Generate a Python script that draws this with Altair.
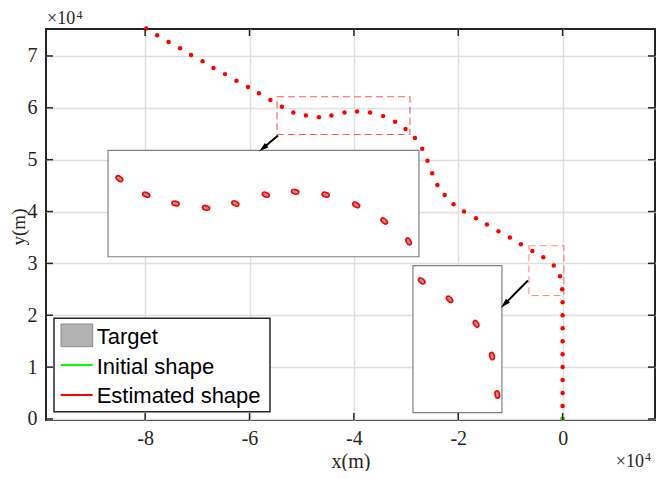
import altair as alt
import pandas as pd

# ---- data (units of 10^4 m) ----
x_pos = [-7.98, -7.77, -7.55, -7.33, -7.12, -6.90, -6.69, -6.47, -6.25, -6.03,
         -5.82, -5.60, -5.38, -5.16, -4.92, -4.67, -4.43, -4.18, -3.94, -3.69,
         -3.44, -3.21, -3.01, -2.83, -2.69, -2.59, -2.50, -2.40, -2.26, -2.09,
         -1.89, -1.66, -1.45, -1.23, -1.01, -0.80, -0.58, -0.37, -0.17, -0.05,
         -0.01, 0, 0, 0, 0, 0, 0, 0, 0, 0, 0]
y_pos = [7.53, 7.40, 7.27, 7.15, 7.02, 6.90, 6.77, 6.65, 6.52, 6.40,
         6.28, 6.15, 6.02, 5.91, 5.85, 5.82, 5.85, 5.91, 5.93, 5.91,
         5.84, 5.73, 5.59, 5.42, 5.21, 4.98, 4.74, 4.51, 4.32, 4.14,
         4.00, 3.87, 3.75, 3.62, 3.50, 3.37, 3.24, 3.12, 2.96, 2.75,
         2.50, 2.25, 2.00, 1.75, 1.50, 1.25, 1.00, 0.75, 0.50, 0.25, 0]

initial_x = [0]
initial_y = [0]

# zoom windows (x0, x1, y0, y1) and the inset boxes they are magnified into
zoom_src = [[-5.473, -2.925, 5.485, 6.213], [-0.646, 0.025, 2.381, 3.339]]
zoom_dst = [[-8.711, -2.753, 3.128, 5.178], [-2.868, -1.163, 0.121, 2.956]]
zoom_opacity = [0.65, 0.45]
tilt_1 = [35, 25, 15, 15, 25, 25, 15, 20, 30, 40, 60]
tilt_2 = [40, 45, 60, 75, 80]

arrow_from = [[-5.454, 5.466], [-0.665, 2.669]]
arrow_to = [[-5.818, 5.159], [-1.182, 2.146]]
arrow_angle = [230, 224]
arrow_head_t = [0.80, 0.87]

legend_labels = ["Target", "Initial shape", "Estimated shape"]
x_ticks = [-8, -6, -4, -2, 0]
y_ticks = [0, 1, 2, 3, 4, 5, 6, 7]

# ---- tables ----
pts = pd.DataFrame({"x": x_pos, "y": y_pos})
init = pd.DataFrame({"x": initial_x, "y": initial_y})
rects = pd.DataFrame({"x": [r[0] for r in zoom_src], "x2": [r[1] for r in zoom_src],
                      "y": [r[2] for r in zoom_src], "y2": [r[3] for r in zoom_src],
                      "op": zoom_opacity})
boxes = pd.DataFrame({"x": [r[0] for r in zoom_dst], "x2": [r[1] for r in zoom_dst],
                      "y": [r[2] for r in zoom_dst], "y2": [r[3] for r in zoom_dst]})
inset_rows = []
for src, dst, tilts in zip(zoom_src, zoom_dst, [tilt_1, tilt_2]):
    sel = pts[(pts.x >= src[0]) & (pts.x <= src[1]) & (pts.y >= src[2]) & (pts.y <= src[3])]
    for (xv, yv), t in zip(sel[["x", "y"]].values, tilts):
        ix = dst[0] + (xv - src[0]) * (dst[1] - dst[0]) / (src[1] - src[0])
        iy = dst[2] + (yv - src[2]) * (dst[3] - dst[2]) / (src[3] - src[2])
        inset_rows.append({"x": ix, "y": iy, "ang": t})
inset = pd.DataFrame(inset_rows)
arrows = pd.DataFrame({
    "x": [a[0] for a in arrow_from], "y": [a[1] for a in arrow_from],
    "hx": [f[0] + t * (e[0] - f[0]) for f, e, t in zip(arrow_from, arrow_to, arrow_head_t)],
    "hy": [f[1] + t * (e[1] - f[1]) for f, e, t in zip(arrow_from, arrow_to, arrow_head_t)],
    "ang": arrow_angle})
xt = pd.DataFrame({"x": x_ticks})
yt = pd.DataFrame({"y": y_ticks})
one = pd.DataFrame({"a": [0]})

W, H = 609, 391
SERIF = "Liberation Serif"
SANS = "Liberation Sans"
DARK = "#262626"

xs = alt.Scale(domain=[-9.9, 1.77], nice=False, zero=False)
ys = alt.Scale(domain=[-0.02, 7.52], nice=False, zero=False)

x_axis = alt.Axis(values=x_ticks, labelExpr="'' + datum.value", title="x(m)",
                  grid=True, gridColor="#dfdfdf", gridWidth=1.5, ticks=False, tickSize=0,
                  domain=False, labelFont=SERIF, labelFontSize=20, labelColor=DARK,
                  labelPadding=8.5, titleFont=SERIF, titleFontSize=20, titleFontWeight="normal",
                  titleColor=DARK, titleY=47, titleBaseline="alphabetic")
y_axis = alt.Axis(values=y_ticks, labelExpr="'' + datum.value", title="y(m)",
                  grid=True, gridColor="#dfdfdf", gridWidth=1.5, ticks=False, tickSize=0,
                  domain=False, labelFont=SERIF, labelFontSize=20, labelColor=DARK,
                  labelPadding=9, titleFont=SERIF, titleFontSize=19, titleFontWeight="normal",
                  titleColor=DARK, titleAngle=270, titleX=-22, titleY=H / 2 + 2,
                  titleBaseline="alphabetic", titleAlign="center")

def X(f="x"):
    return alt.X(f"{f}:Q", scale=xs, axis=x_axis)

def Y(f="y"):
    return alt.Y(f"{f}:Q", scale=ys, axis=y_axis)

dots = alt.Chart(pts).mark_circle(color="#ff0000", size=20, opacity=1).encode(x=X(), y=Y())

green = alt.Chart(init).mark_square(color="#00ff00", size=12, opacity=1).encode(x=X(), y=Y())

zrects = alt.Chart(rects).mark_rect(fill=None, stroke="#ff0000", strokeWidth=1.1,
                                    strokeDash=[7, 4]).encode(
    x=X(), x2="x2:Q", y=Y(), y2="y2:Q", strokeOpacity=alt.StrokeOpacity("op:Q", scale=None))

ibox = alt.Chart(boxes).mark_rect(fill="white", stroke="#808080", strokeWidth=1.2).encode(
    x=X(), x2="x2:Q", y=Y(), y2="y2:Q")

ELLIPSE = "M-1,0A1,0.6,0,1,1,1,0A1,0.6,0,1,1,-1,0Z"
ell = alt.Chart(inset).mark_point(shape=ELLIPSE, filled=True, fill="#999999", stroke="#ff0000",
                                  strokeWidth=1.6, size=56, opacity=1, fillOpacity=1).encode(
    x=X(), y=Y(), angle=alt.Angle("ang:Q", scale=None))

arrow_line = alt.Chart(arrows).mark_rule(color="black", strokeWidth=2).encode(
    x=X(), y=Y(), x2="hx:Q", y2="hy:Q")
HEAD = "M0,-1L0.55,1L-0.55,1Z"
arrow_head = alt.Chart(arrows).mark_point(shape=HEAD, filled=True, color="black", size=100,
                                          opacity=1).encode(
    x=X("hx"), y=Y("hy"), angle=alt.Angle("ang:Q", scale=None))

tick_b = alt.Chart(xt).mark_rule(color=DARK, strokeWidth=1.5).encode(
    x=X(), y=alt.value(H), y2=alt.value(H - 7))
tick_t = alt.Chart(xt).mark_rule(color=DARK, strokeWidth=1.5).encode(
    x=X(), y=alt.value(0), y2=alt.value(7))
tick_l = alt.Chart(yt).mark_rule(color=DARK, strokeWidth=1.5).encode(
    y=Y(), x=alt.value(0), x2=alt.value(7))
tick_r = alt.Chart(yt).mark_rule(color=DARK, strokeWidth=1.5).encode(
    y=Y(), x=alt.value(W), x2=alt.value(W - 7))

# legend (pixel offsets from the plot's top-left corner)
leg_box = alt.Chart(one).mark_rect(fill="white", stroke=DARK, strokeWidth=1.5).encode(
    x=alt.value(8), x2=alt.value(224), y=alt.value(289.3), y2=alt.value(382.7))
leg_patch = alt.Chart(one).mark_rect(fill="#b3b3b3", stroke="#8c8c8c", strokeWidth=1).encode(
    x=alt.value(15), x2=alt.value(46.7), y=alt.value(295), y2=alt.value(317.7))
leg_g = alt.Chart(one).mark_rule(color="#00ff00", strokeWidth=1.8).encode(
    x=alt.value(14.7), x2=alt.value(46.7), y=alt.value(336))
leg_r = alt.Chart(one).mark_rule(color="#ff0000", strokeWidth=1.8).encode(
    x=alt.value(14.7), x2=alt.value(46.7), y=alt.value(366))
leg_text = [alt.Chart(one).mark_text(align="left", baseline="alphabetic", font=SANS,
                                     fontSize=22, color="black").encode(
    x=alt.value(50.7), y=alt.value(315.3 + 29.5 * i), text=alt.value(lab))
    for i, lab in enumerate(legend_labels)]

# x10^4 multipliers
def txt(s, xp, yp, size, align="left"):
    return alt.Chart(one).mark_text(align=align, baseline="alphabetic", font=SERIF,
                                    fontSize=size, color=DARK).encode(
        x=alt.value(xp), y=alt.value(yp), text=alt.value(s))

m1 = txt("×10", 1, -5, 18)
m1e = txt("4", 30.5, -10, 12)
m2 = txt("×10", 598, 438, 18, "right")
m2e = txt("4", 599, 432, 12)

chart = alt.layer(
    dots, zrects, green, ibox, ell, arrow_line, arrow_head,
    tick_b, tick_t, tick_l, tick_r,
    leg_box, leg_patch, leg_g, leg_r, *leg_text,
    m1, m1e, m2, m2e,
).properties(
    width=W, height=H,
    autosize=alt.AutoSizeParams(type="none"),
    padding={"left": 38, "top": 21, "right": 1, "bottom": 51},
    background="white",
).configure_view(stroke=DARK, strokeWidth=2)

chart.save("out.html", embed_options={"renderer": "svg", "actions": False})
